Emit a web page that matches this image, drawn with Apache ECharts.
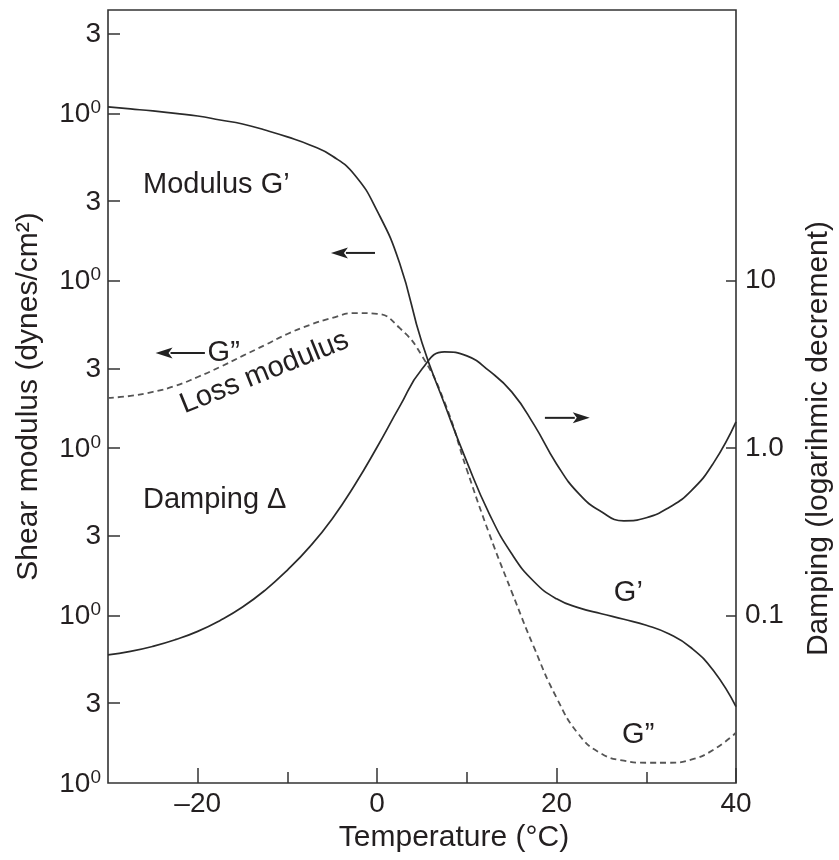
<!DOCTYPE html>
<html>
<head>
<meta charset="utf-8">
<script src="https://cdn.jsdelivr.net/npm/echarts@6/dist/echarts.min.js"></script>
<style>
  html, body { margin: 0; padding: 0; background: #fff; }
  #chart { width: 839px; height: 860px; }
</style>
</head>
<body>
<div id="chart"></div>
<script>
// ---- data ----
const temperatures = [-30, -27.5, -25, -22.5, -20, -17.5, -15, -12.5, -10, -7.5, -5, -2.5, 0, 2.5, 5, 7.5, 10, 12.5, 15, 17.5, 20, 22.5, 25, 27.5, 30, 32.5, 35, 37.5, 40];
// shear moduli, in decades above the lowest 10^0 gridline of the left axis
const storageModulusDecades = [4.038, 4.026, 4.014, 3.999, 3.984, 3.960, 3.936, 3.900, 3.859, 3.811, 3.745, 3.632, 3.417, 3.106, 2.629, 2.265, 1.918, 1.608, 1.369, 1.202, 1.100, 1.046, 1.011, 0.978, 0.942, 0.891, 0.808, 0.670, 0.456];
const lossModulusDecades = [2.300, 2.312, 2.336, 2.372, 2.425, 2.485, 2.551, 2.616, 2.682, 2.736, 2.778, 2.807, 2.802, 2.718, 2.551, 2.276, 1.871, 1.488, 1.142, 0.808, 0.509, 0.288, 0.175, 0.133, 0.121, 0.121, 0.139, 0.199, 0.300];
// damping (logarithmic decrement), right axis
const dampingDecrement = [0.0583, 0.0611, 0.0655, 0.0718, 0.0805, 0.0936, 0.1125, 0.1416, 0.1871, 0.2582, 0.3793, 0.6026, 1.016, 1.770, 2.972, 3.758, 3.556, 2.891, 2.168, 1.377, 0.805, 0.533, 0.417, 0.368, 0.384, 0.441, 0.556, 0.817, 1.436];

// ---- tick labels ----
const leftTickDecades = [0, 0.4771, 1, 1.4771, 2, 2.4771, 3, 3.4771, 4, 4.4771];
const leftTickLabels = ['10^0', '3', '10^0', '3', '10^0', '3', '10^0', '3', '10^0', '3'];
const rightTickValues = [0.1, 1.0, 10];
const rightTickLabels = ['0.1', '1.0', '10'];
const xMajorTicks = [-20, 0, 20, 40];
const xMinorTicks = [-10, 10, 30];

// ---- annotations (data coordinates: temperature, left-axis decades) ----
const annotations = [
  { text: 'Modulus G\u2019', t: -26.1, v: 3.572, align: 'left' },
  { text: 'G\u201D', t: -18.9, v: 2.569, align: 'left' },
  { text: 'Loss modulus', t: -12.55, v: 2.451, align: 'center', rotate: 22 },
  { text: 'Damping \u0394', t: -26.1, v: 1.691, align: 'left' },
  { text: 'G\u2019', t: 28.0, v: 1.137, align: 'center' },
  { text: 'G\u201D', t: 29.1, v: 0.288, align: 'center' }
];
const arrows = [
  { from: [-0.24, 3.166], to: [-5.15, 3.166] },
  { from: [-19.2, 2.569], to: [-24.7, 2.569] },
  { from: [18.7, 2.181], to: [23.7, 2.181] }
];

const FONT = '"Liberation Sans", Arial, Helvetica, sans-serif';
const TXT = '#231f20';
const AX = '#333333';

const rightTickLogs = rightTickValues.map(v => Math.log10(v));

const chart = echarts.init(document.getElementById('chart'));
const option = {
  animation: false,
  backgroundColor: '#fff',
  grid: {
    left: 108, right: 103, top: 10, bottom: 77,
    containLabel: false, outerBoundsMode: 'none',
    show: true, borderColor: AX, borderWidth: 1.6, backgroundColor: 'transparent'
  },
  xAxis: [
    {
      type: 'value', min: -30, max: 40,
      axisLine: { show: false, onZero: false }, splitLine: { show: false },
      axisTick: { inside: true, length: 15, customValues: xMajorTicks, lineStyle: { color: AX, width: 1.5 } },
      axisLabel: {
        customValues: xMajorTicks, margin: 7, fontSize: 28, color: TXT, fontFamily: FONT,
        formatter: v => (v < 0 ? '\u2013' + Math.abs(v) : String(v))
      },
      name: 'Temperature (\u00B0C)', nameLocation: 'middle', nameGap: 40,
      nameTextStyle: { fontSize: 30, color: TXT, fontFamily: FONT, padding: [0, 0, 0, 64] }
    },
    {
      type: 'value', min: -30, max: 40, position: 'bottom',
      axisLine: { show: false, onZero: false }, splitLine: { show: false }, axisLabel: { show: false },
      axisTick: { inside: true, length: 11, customValues: xMinorTicks, lineStyle: { color: AX, width: 1.5 } }
    }
  ],
  yAxis: [
    {
      type: 'value', min: 0, max: 4.617, position: 'left',
      axisLine: { show: false, onZero: false }, splitLine: { show: false },
      axisTick: { inside: true, length: 12, customValues: leftTickDecades.filter(v => v > 0), lineStyle: { color: AX, width: 1.5 } },
      axisLabel: {
        customValues: leftTickDecades, margin: 7, color: TXT, fontFamily: FONT,
        formatter: v => {
          let idx = 0, best = 1e9;
          leftTickDecades.forEach((d, i) => { const e = Math.abs(d - v); if (e < best) { best = e; idx = i; } });
          const lab = leftTickLabels[idx];
          if (lab.indexOf('^') >= 0) {
            const p = lab.split('^');
            return '{b|' + p[0] + '}{s|' + p[1] + '}';
          }
          return '{b|' + lab + '}';
        },
        rich: {
          b: { fontSize: 28, lineHeight: 30, verticalAlign: 'bottom', color: TXT, fontFamily: FONT },
          s: { fontSize: 19, lineHeight: 14, verticalAlign: 'top', color: TXT, fontFamily: FONT }
        }
      },
      name: 'Shear modulus (dynes/cm\u00B2)', nameLocation: 'middle', nameGap: 64,
      nameTextStyle: { fontSize: 30, color: TXT, fontFamily: FONT }
    },
    {
      type: 'value', min: -2, max: 2.617, position: 'right',
      axisLine: { show: false, onZero: false }, splitLine: { show: false },
      axisTick: { inside: true, length: 10, customValues: rightTickLogs, lineStyle: { color: AX, width: 1.5 } },
      axisLabel: {
        customValues: rightTickLogs, margin: 9, fontSize: 28, color: TXT, fontFamily: FONT,
        formatter: v => {
          let idx = 0, best = 1e9;
          rightTickLogs.forEach((d, i) => { const e = Math.abs(d - v); if (e < best) { best = e; idx = i; } });
          return rightTickLabels[idx];
        }
      },
      name: 'Damping (logarihmic decrement)', nameLocation: 'middle', nameGap: 68,
      nameTextStyle: { fontSize: 30, color: TXT, fontFamily: FONT, padding: [0, 84, 0, 0] }
    }
  ],
  series: [
    {
      name: 'G\u2032', type: 'line', xAxisIndex: 0, yAxisIndex: 0, smooth: 0.5, symbol: 'none',
      data: temperatures.map((t, i) => [t, storageModulusDecades[i]]),
      lineStyle: { color: '#2a2a2a', width: 1.7 }, z: 3
    },
    {
      name: 'G\u2033', type: 'line', xAxisIndex: 0, yAxisIndex: 0, smooth: 0.5, symbol: 'none',
      data: temperatures.map((t, i) => [t, lossModulusDecades[i]]),
      lineStyle: { color: '#555', width: 1.8, type: [6, 4] }, z: 2
    },
    {
      name: 'Damping', type: 'line', xAxisIndex: 0, yAxisIndex: 1, smooth: 0.5, symbol: 'none',
      data: temperatures.map((t, i) => [t, Math.log10(dampingDecrement[i])]),
      lineStyle: { color: '#2a2a2a', width: 1.7 }, z: 3
    }
  ]
};
chart.setOption(option);

// annotations placed through the chart's own coordinate system
const toPx = (t, v) => chart.convertToPixel({ xAxisIndex: 0, yAxisIndex: 0 }, [t, v]);
const graphics = [];
annotations.forEach(a => {
  const p = toPx(a.t, a.v);
  graphics.push({
    type: 'text', x: p[0], y: p[1], rotation: (a.rotate || 0) * Math.PI / 180, z: 10,
    style: { text: a.text, fontSize: 29, fontFamily: FONT, fill: TXT, align: a.align, verticalAlign: 'middle' }
  });
});
arrows.forEach(a => {
  const p1 = toPx(a.from[0], a.from[1]);
  const p2 = toPx(a.to[0], a.to[1]);
  const dx = p2[0] - p1[0], dy = p2[1] - p1[1];
  const len = Math.sqrt(dx * dx + dy * dy);
  const ux = dx / len, uy = dy / len;
  const hl = 17, hw = 5.5;
  const bx = p2[0] - ux * hl, by = p2[1] - uy * hl;
  graphics.push({
    type: 'line', z: 10,
    shape: { x1: p1[0], y1: p1[1], x2: bx + ux * 2, y2: by + uy * 2 },
    style: { stroke: '#222', lineWidth: 2 }
  });
  graphics.push({
    type: 'polygon', z: 10,
    shape: { points: [[p2[0], p2[1]], [bx - uy * hw, by + ux * hw], [bx + ux * 4, by + uy * 4], [bx + uy * hw, by - ux * hw]] },
    style: { fill: '#222' }
  });
});
chart.setOption({ graphic: graphics });
</script>
</body>
</html>
